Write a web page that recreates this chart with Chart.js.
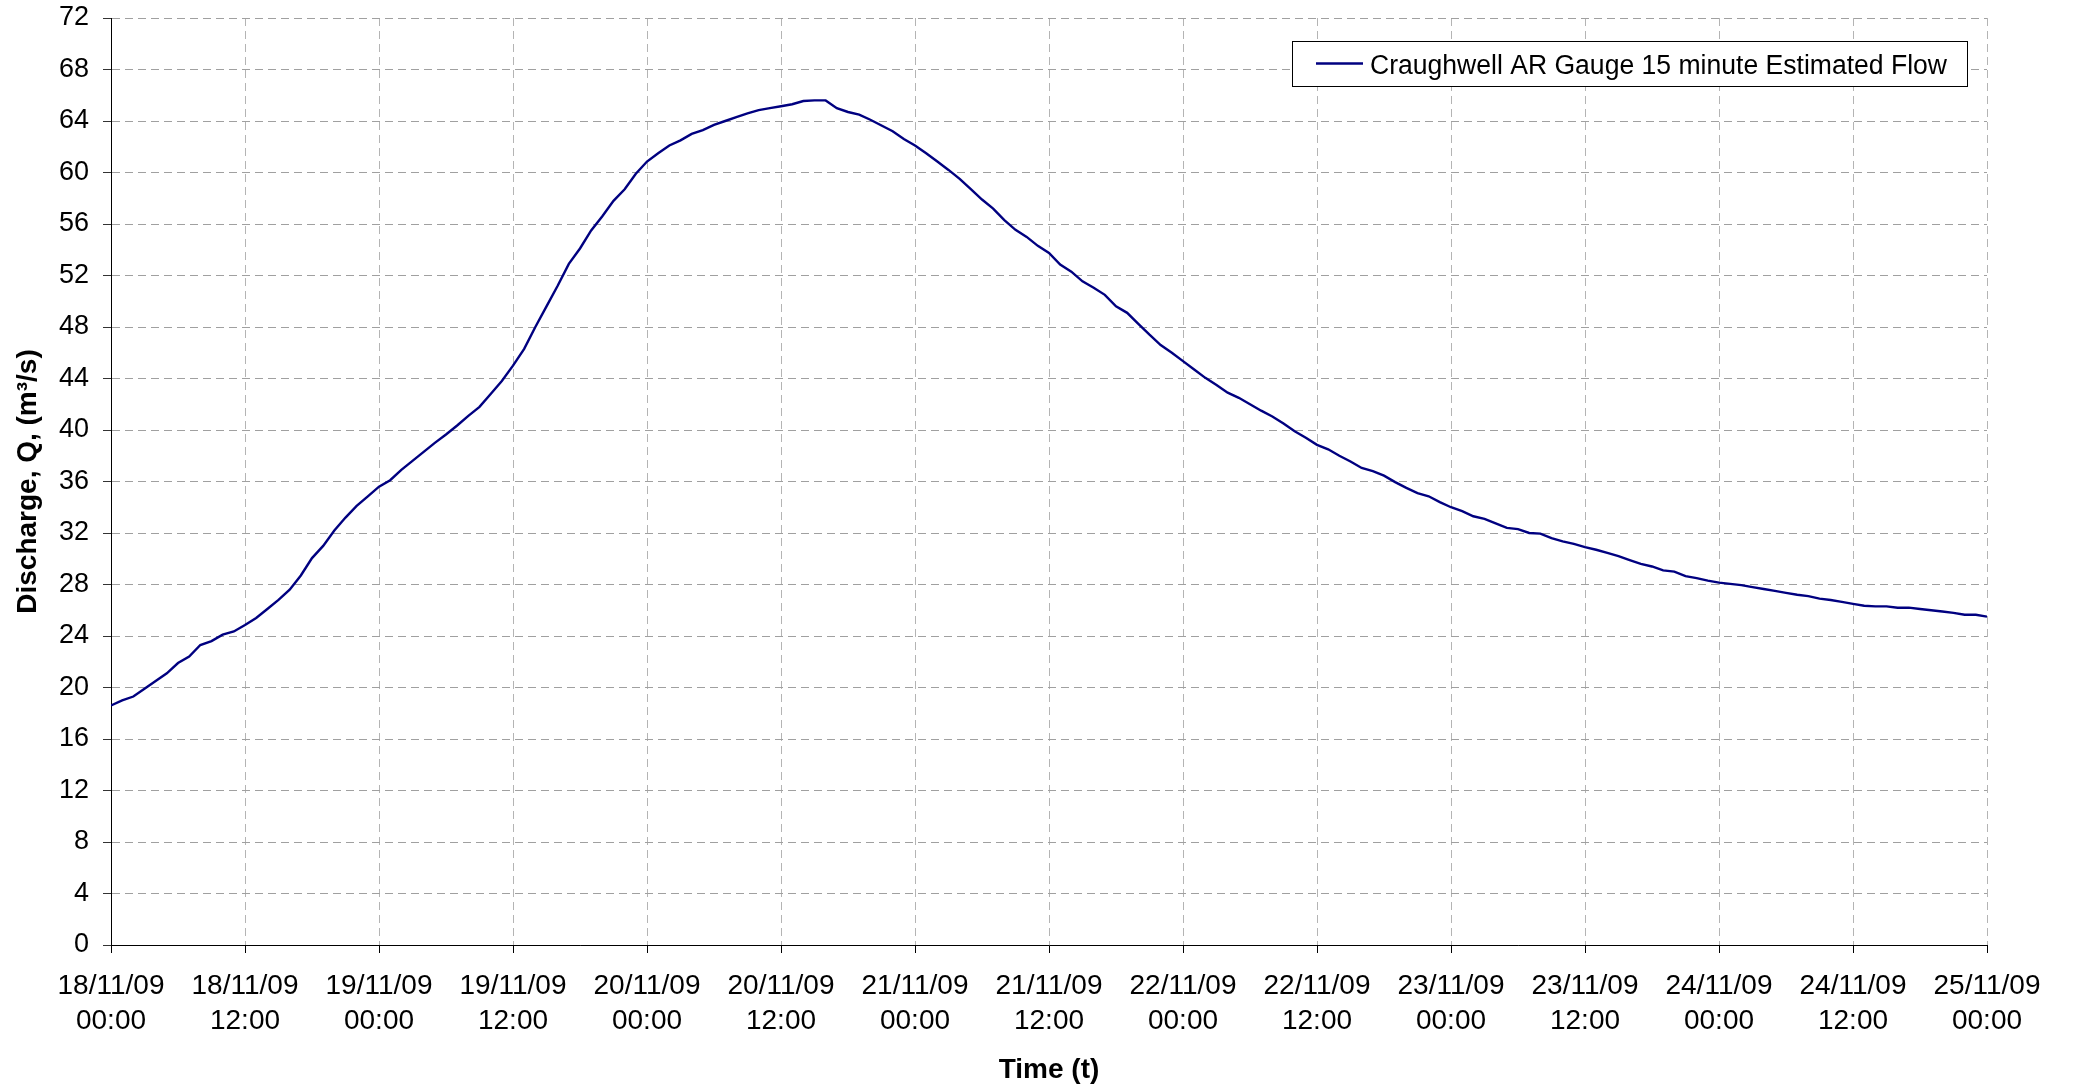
<!DOCTYPE html>
<html>
<head>
<meta charset="utf-8">
<script src="https://cdn.jsdelivr.net/npm/chart.js@4.4.1/dist/chart.umd.min.js"></script>
<style>
  html, body { margin: 0; padding: 0; background: #ffffff; }
  #wrap { width: 2074px; height: 1087px; position: relative; }
</style>
</head>
<body>
<div id="wrap"><canvas id="c" width="2074" height="1087"></canvas></div>
<script>
// ---- Data (hourly samples) ----
const seriesLabel = 'Craughwell AR Gauge 15 minute Estimated Flow';
const startHour = 0;
const endHour = 168;
const flowValues = [
  18.6, 19.0, 19.3, 19.9, 20.5, 21.1, 21.9, 22.4, 23.3, 23.6,
  24.1, 24.35, 24.85, 25.4, 26.1, 26.8, 27.6, 28.7, 30.05, 31.0,
  32.2, 33.2, 34.1, 34.85, 35.6, 36.1, 36.9, 37.6, 38.3, 39.0,
  39.65, 40.35, 41.1, 41.8, 42.8, 43.8, 45.0, 46.3, 48.0, 49.6,
  51.2, 52.9, 54.1, 55.5, 56.6, 57.8, 58.7, 59.9, 60.85, 61.5,
  62.1, 62.5, 63.0, 63.3, 63.7, 64.0, 64.3, 64.6, 64.85, 65.0,
  65.15, 65.3, 65.55, 65.6, 65.6, 65.0, 64.7, 64.5, 64.1, 63.65,
  63.2, 62.6, 62.1, 61.5, 60.85, 60.2, 59.5, 58.7, 57.9, 57.2,
  56.3, 55.55, 55.0, 54.3, 53.75, 52.85, 52.3, 51.55, 51.05, 50.5,
  49.6, 49.1, 48.25, 47.4, 46.6, 46.0, 45.35, 44.7, 44.05, 43.5,
  42.9, 42.5, 42.0, 41.5, 41.05, 40.5, 39.9, 39.4, 38.85, 38.5,
  38.0, 37.55, 37.05, 36.8, 36.45, 35.95, 35.5, 35.1, 34.85, 34.4,
  34.0, 33.7, 33.3, 33.1, 32.75, 32.4, 32.3, 32.0, 31.95, 31.6,
  31.35, 31.15, 30.9, 30.7, 30.45, 30.2, 29.9, 29.6, 29.4, 29.1,
  29.0, 28.65, 28.5, 28.3, 28.15, 28.05, 27.95, 27.8, 27.65, 27.5,
  27.35, 27.2, 27.1, 26.9, 26.8, 26.65, 26.5, 26.35, 26.3, 26.3,
  26.2, 26.2, 26.1, 26.0, 25.9, 25.8, 25.65, 25.65, 25.5
];
const sampleHours = flowValues.map((_, i) => startHour + i);
const xTickLabels = [
  ['18/11/09', '00:00'], ['18/11/09', '12:00'],
  ['19/11/09', '00:00'], ['19/11/09', '12:00'],
  ['20/11/09', '00:00'], ['20/11/09', '12:00'],
  ['21/11/09', '00:00'], ['21/11/09', '12:00'],
  ['22/11/09', '00:00'], ['22/11/09', '12:00'],
  ['23/11/09', '00:00'], ['23/11/09', '12:00'],
  ['24/11/09', '00:00'], ['24/11/09', '12:00'],
  ['25/11/09', '00:00']
];
const xTickStepHours = 12;
const yMin = 0, yMax = 72, yStep = 4;
const xTitle = 'Time (t)';
const yTitle = 'Discharge, Q, (m\u00B3/s)';

// ---- Boxed legend drawn inside the plot area, top right ----
const boxedLegend = {
  id: 'boxedLegend',
  afterDraw(chart) {
    const ctx = chart.ctx;
    const ca = chart.chartArea;
    const ds = chart.data.datasets[0];
    const boxRight = Math.round(ca.right - 20);
    const boxLeft = boxRight - 675;
    const boxTop = 41;
    const boxH = 45;
    ctx.save();
    ctx.fillStyle = '#ffffff';
    ctx.fillRect(boxLeft, boxTop, boxRight - boxLeft, boxH);
    ctx.strokeStyle = '#000000';
    ctx.lineWidth = 1;
    ctx.strokeRect(boxLeft + 0.5, boxTop + 0.5, boxRight - boxLeft, boxH);
    // line sample
    ctx.strokeStyle = ds.borderColor;
    ctx.lineWidth = 2.4;
    ctx.beginPath();
    ctx.moveTo(boxLeft + 24, boxTop + 22.5);
    ctx.lineTo(boxLeft + 71, boxTop + 22.5);
    ctx.stroke();
    // label
    ctx.font = '27px "Liberation Sans", Arial, sans-serif';
    ctx.fillStyle = '#000000';
    ctx.textBaseline = 'alphabetic';
    ctx.textAlign = 'left';
    const w = ctx.measureText(ds.label).width;
    const targetW = 577;
    ctx.translate(boxLeft + 78, boxTop + 32.5);
    ctx.scale(Math.min(1.05, targetW / w), 1);
    ctx.fillText(ds.label, 0, 0);
    ctx.restore();
  }
};

Chart.defaults.font.family = '"Liberation Sans", Arial, sans-serif';
Chart.defaults.color = '#000000';

new Chart(document.getElementById('c'), {
  type: 'line',
  data: {
    datasets: [{
      label: seriesLabel,
      data: flowValues.map((v, i) => ({ x: sampleHours[i], y: v })),
      borderColor: '#000080',
      backgroundColor: '#000080',
      borderWidth: 2.4,
      pointRadius: 0,
      pointHoverRadius: 0,
      tension: 0,
      fill: false
    }]
  },
  options: {
    responsive: false,
    animation: false,
    events: [],
    layout: { padding: { left: 0, right: 87, top: 18, bottom: 0 } },
    plugins: {
      legend: { display: false },
      title: { display: false },
      tooltip: { enabled: false }
    },
    scales: {
      x: {
        type: 'linear',
        min: startHour,
        max: endHour,
        afterFit: (s) => { s.height = 142; s.paddingLeft = 0; s.paddingRight = 0; },
        afterBuildTicks: (s) => {
          s.ticks = xTickLabels.map((_, i) => ({ value: startHour + i * xTickStepHours }));
        },
        ticks: {
          autoSkip: false,
          maxRotation: 0,
          minRotation: 0,
          padding: 16,
          font: { size: 28, lineHeight: 1.25 },
          color: '#000000',
          callback: (v) => xTickLabels[Math.round((v - startHour) / xTickStepHours)]
        },
        grid: {
          color: '#b4b4b4',
          lineWidth: 1,
          tickLength: 8,
          tickColor: '#000000',
          tickBorderDash: [],
          drawTicks: true
        },
        border: { display: true, color: '#000000', width: 1, dash: [8, 5] },
        title: {
          display: true,
          text: xTitle,
          font: { size: 28, weight: 'bold', lineHeight: 1.2 },
          color: '#000000',
          padding: { top: 0, bottom: 0 }
        }
      },
      y: {
        min: yMin,
        max: yMax,
        afterFit: (s) => { s.width = 111; s.paddingTop = 0; s.paddingBottom = 0; },
        ticks: {
          stepSize: yStep,
          padding: 14,
          font: { size: 27, lineHeight: 1.2 },
          color: '#000000'
        },
        grid: {
          color: '#a0a0a0',
          lineWidth: 1,
          tickLength: 8,
          tickColor: '#333333',
          tickBorderDash: [],
          drawTicks: true
        },
        border: { display: true, color: '#000000', width: 1, dash: [8, 5] },
        title: {
          display: true,
          text: yTitle,
          font: { size: 28, weight: 'bold', lineHeight: 1.2 },
          color: '#000000',
          padding: { top: 11, bottom: 0 }
        }
      }
    }
  },
  plugins: [boxedLegend]
});
</script>
</body>
</html>
